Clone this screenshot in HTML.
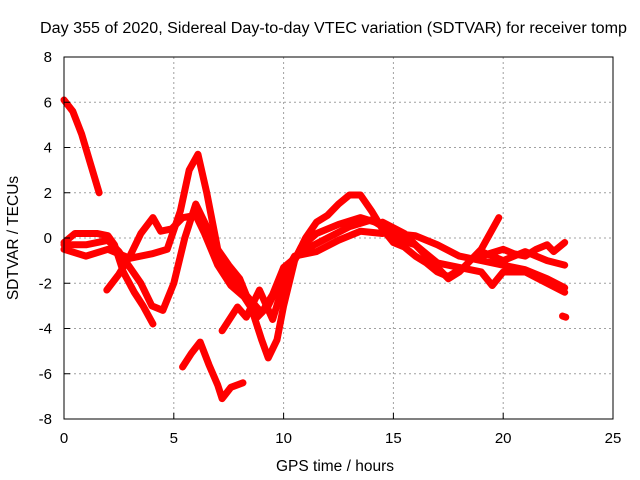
<!DOCTYPE html>
<html><head><meta charset="utf-8"><style>
body{margin:0;background:#fff}
svg{display:block;font-family:"Liberation Sans",sans-serif}
</style></head><body>
<svg id="c" width="640" height="480" xmlns="http://www.w3.org/2000/svg">
<rect width="640" height="480" fill="#fff"/>
<text x="40" y="33" font-size="15.5" textLength="587" lengthAdjust="spacingAndGlyphs">Day 355 of 2020, Sidereal Day-to-day VTEC variation (SDTVAR) for receiver tomp</text>
<g id="grid"></g>
<g id="data"></g>
<rect x="64" y="57" width="549" height="362" fill="none" stroke="#000" stroke-width="1"/>
<g id="ticks" font-size="15"></g>
<text x="335" y="471" font-size="15.5" text-anchor="middle">GPS time / hours</text>
<text x="18" y="238" font-size="15.5" text-anchor="middle" transform="rotate(-90 18 238)">SDTVAR / TECUs</text>
</svg>
<script>
const xTicks=[0,5,10,15,20,25];
const yTicks=[-8,-6,-4,-2,0,2,4,6,8];
const trackNames=['t1','t2','t3','t4','t5','t6','t7','t8','t9','t10','t11','t12'];
const t1=[[0,6.1],[0.4,5.6],[0.8,4.6],[1.2,3.3],[1.6,2.0]];
const t2=[[0,-0.3],[1,-0.3],[2,-0.1],[2.5,-0.6],[3.5,-2.0],[4,-3.0],[4.5,-3.2],[5,-2],[5.5,0],[6,1.5],[6.5,0.5],[7,-1],[7.5,-1.5],[8,-2.2],[9,-3.3],[9.5,-2.5],[10,-1.3],[11,-0.5],[12,0],[13,0.5],[14,0.8],[15,0.2],[16,0.1],[17,-0.3],[18,-0.8],[19,-1],[20,-1.2],[21,-1.4],[22,-1.8],[22.8,-2.2]];
const t3=[[0,-0.5],[1,-0.8],[2,-0.5],[3,-0.9],[4,-0.7],[4.7,-0.5],[5.3,1.2],[5.7,3.0],[6.1,3.7],[6.5,2.0],[7,-0.5],[7.5,-1.2],[8,-1.8],[8.5,-3.0],[9,-4.5],[9.3,-5.3],[9.7,-4.5],[10,-3],[10.5,-1],[11,0],[11.5,0.7],[12,1.0],[12.5,1.5],[13,1.9],[13.5,1.9],[14,1.2],[14.5,0.4],[15,-0.2],[15.5,-0.4],[16,-0.8],[16.5,-1.1],[17,-1.5],[17.5,-1.7],[18,-1.4]];
const t4=[[0,-0.2],[0.5,0.2],[1,0.2],[1.5,0.2],[2,0.1],[2.3,-0.3],[2.7,-1.5],[3.2,-2.4],[3.6,-3.0],[4.05,-3.8]];
const t5=[[1.95,-2.3],[2.5,-1.6],[3,-0.8],[3.5,0.2],[4.05,0.9],[4.4,0.3],[4.9,0.4],[5.4,0.9],[6,1.0],[6.4,0.2],[7,-1.2],[7.6,-2.1],[8.2,-2.6],[8.8,-3.5],[9.3,-3.0],[9.8,-2.0],[10.5,-0.8],[11.5,-0.6],[12.5,-0.1],[13.5,0.3],[14.5,0.2]];
const t6=[[5.4,-5.7],[5.8,-5.1],[6.2,-4.6],[6.6,-5.6],[7,-6.5],[7.2,-7.1],[7.6,-6.6],[8.15,-6.4]];
const t7=[[7.2,-4.1],[7.9,-3.05],[8.3,-3.5],[8.9,-2.3],[9.5,-3.6],[10.1,-1.7],[10.8,-0.4],[11.5,0.2],[12.5,0.6],[13.5,0.9],[14.5,0.6]];
const t8=[[14.5,0.7],[15.5,0.2],[16.5,-0.8],[17.5,-1.8],[18,-1.5],[19,-0.5],[19.8,0.9]];
const t9=[[15,0],[16,-0.3],[17,-1.1],[18,-1.3],[19,-1.5],[19.5,-2.1],[20,-1.5],[21,-1.5],[22,-2.0],[22.8,-2.4]];
const t10=[[19,-0.8],[20,-0.5],[20.5,-0.7],[21,-0.8],[21.5,-0.5],[22,-0.3],[22.3,-0.6],[22.8,-0.2]];
const t11=[[19,-0.6],[20,-1],[21,-0.6],[22,-1],[22.8,-1.2]];
const t12=[[22.7,-3.45],[22.85,-3.5]];
const tracks=[t1,t2,t3,t4,t5,t6,t7,t8,t9,t10,t11,t12];
const X0=64,X1=613,Y0=419,Y1=57,xMin=0,xMax=25,yMin=-8,yMax=8;
const sx=v=>X0+(v-xMin)/(xMax-xMin)*(X1-X0);
const sy=v=>Y0-(v-yMin)/(yMax-yMin)*(Y0-Y1);
const NS='http://www.w3.org/2000/svg';
const grid=document.getElementById('grid'),ticks=document.getElementById('ticks'),data=document.getElementById('data');
function mk(tag,attrs,parent){const e=document.createElementNS(NS,tag);for(const k in attrs)e.setAttribute(k,attrs[k]);parent.appendChild(e);return e;}
xTicks.forEach(t=>{
  const x=sx(t);
  if(t>xMin&&t<xMax){const g=mk('line',{x1:x,x2:x,y1:Y1,y2:Y0,stroke:'#a0a0a0','stroke-dasharray':'2,3'},grid);
  
  }
  const l=mk('text',{x:x,y:Y0+24,'text-anchor':'middle'},ticks);l.textContent=t;
  
  
  mk('line',{x1:x,x2:x,y1:Y0,y2:Y0-6,stroke:'#000'},ticks);
});
yTicks.forEach(t=>{
  const y=sy(t);
  if(t>yMin&&t<yMax){const g=mk('line',{x1:X0,x2:X1,y1:y,y2:y,stroke:'#a0a0a0','stroke-dasharray':'2,3'},grid);
  
  }
  const l=mk('text',{x:X0-12,y:y+5,'text-anchor':'end'},ticks);l.textContent=t;
  
  
  mk('line',{x1:X0,x2:X0+6,y1:y,y2:y,stroke:'#000'},ticks);
});
tracks.forEach((tr,i)=>{
  const p=mk('polyline',{points:tr.map(d=>sx(d[0])+','+sy(d[1])).join(' '),fill:'none',stroke:'#ff0000','stroke-width':7,'stroke-linejoin':'round','stroke-linecap':'round'},data);
  
  
});
</script>
</body></html>
